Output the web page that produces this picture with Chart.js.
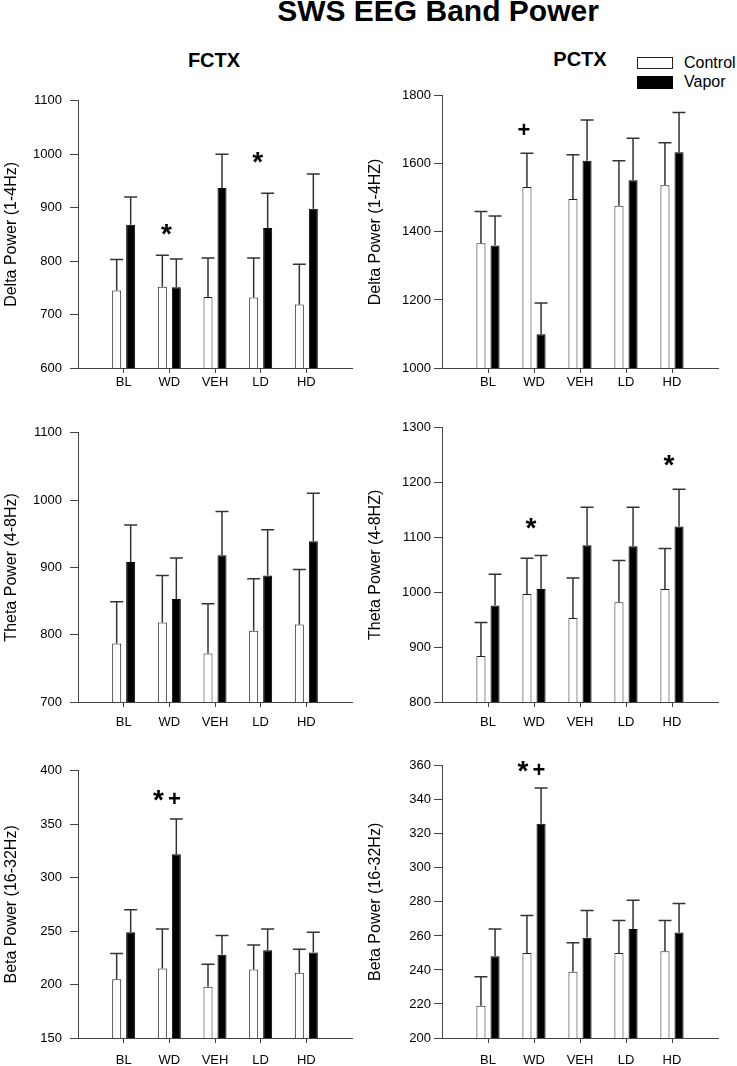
<!DOCTYPE html>
<html>
<head>
<meta charset="utf-8">
<title>SWS EEG Band Power</title>
<script src="https://cdn.jsdelivr.net/npm/chart.js@4"></script>
<style>
  html, body { margin: 0; padding: 0; background: #fff; overflow: hidden; }
  body { width: 737px; height: 1066px; position: relative; font-family: "Liberation Sans", Arial, sans-serif; color: #000; }
  .txt { position: absolute; white-space: nowrap; }
  canvas { position: absolute; }
  #title { left: 238px; width: 400px; top: -4px; text-align: center; font: bold 30px/30px "Liberation Sans", Arial, sans-serif; }
  .col { width: 100px; text-align: center; font: bold 20px/20px "Liberation Sans", Arial, sans-serif; }
  .swatch { position: absolute; left: 637px; width: 36px; box-sizing: border-box; border: 1px solid #222; }
  .leg { left: 684px; font: 16px/16px "Liberation Sans", Arial, sans-serif; }
</style>
</head>
<body>
<div id="title" class="txt">SWS EEG Band Power</div>
<div class="txt col" style="left:164px; top:50px;">FCTX</div>
<div class="txt col" style="left:530px; top:49px;">PCTX</div>
<div class="swatch" style="top:57px; height:12px; background:#fff;"></div>
<div class="swatch" style="top:76px; height:13px; background:#000; border-color:#000;"></div>
<div class="txt leg" style="top:55px;">Control</div>
<div class="txt leg" style="top:74px;">Vapor</div>

<canvas id="p1" width="370" height="313" style="left:0px; top:85px;"></canvas>
<canvas id="p2" width="373" height="313" style="left:364px; top:85px;"></canvas>
<canvas id="p3" width="370" height="315" style="left:0px; top:417px;"></canvas>
<canvas id="p4" width="373" height="315" style="left:364px; top:417px;"></canvas>
<canvas id="p5" width="370" height="313" style="left:0px; top:755px;"></canvas>
<canvas id="p6" width="373" height="313" style="left:364px; top:755px;"></canvas>

<script>
// ---------------- Data ----------------
const groups = ['BL', 'WD', 'VEH', 'LD', 'HD'];

// FCTX delta (1-4Hz)
const fDeltaCtrl = [745, 752, 733, 732, 719];
const fDeltaCtrlSem = [58, 59, 73, 74, 75];
const fDeltaVapor = [868, 751, 937, 862, 898];
const fDeltaVaporSem = [52, 53, 63, 65, 65];
const fDeltaAxis = [600, 1100, 100];
const fDeltaMarks = [['WD', '*', 853, 'both'], ['LD', '*', 988, 'both']];

// PCTX delta (1-4Hz)
const pDeltaCtrl = [1367, 1532, 1497, 1477, 1537];
const pDeltaCtrlSem = [93, 99, 130, 132, 125];
const pDeltaVapor = [1360, 1099, 1609, 1552, 1634];
const pDeltaVaporSem = [87, 92, 120, 123, 117];
const pDeltaAxis = [1000, 1800, 200];
const pDeltaMarks = [['WD', '+', 1703, 'ctrl']];

// FCTX theta (4-8Hz)
const fThetaCtrl = [787, 818, 772, 806, 815];
const fThetaCtrlSem = [62, 70, 74, 77, 82];
const fThetaVapor = [908, 853, 918, 888, 939];
const fThetaVaporSem = [55, 61, 65, 68, 71];
const fThetaAxis = [700, 1100, 100];
const fThetaMarks = [];

// PCTX theta (4-8Hz)
const pThetaCtrl = [884, 997, 953, 982, 1006];
const pThetaCtrlSem = [61, 65, 73, 76, 74];
const pThetaVapor = [976, 1006, 1086, 1084, 1120];
const pThetaVaporSem = [57, 61, 69, 71, 68];
const pThetaAxis = [800, 1300, 100];
const pThetaMarks = [['WD', '*', 1119, 'both'], ['HD', '*', 1234, 'both']];

// FCTX beta (16-32Hz)
const fBetaCtrl = [205, 215, 198, 214, 211];
const fBetaCtrlSem = [24, 37, 21, 23, 22];
const fBetaVapor = [249, 322, 228, 232, 230];
const fBetaVaporSem = [21, 33, 18, 20, 19];
const fBetaAxis = [150, 400, 50];
const fBetaMarks = [['WD', '*+', 374, 'both']];

// PCTX beta (16-32Hz)
const pBetaCtrl = [219, 250, 239, 250, 251];
const pBetaCtrlSem = [17, 22, 17, 19, 18];
const pBetaVapor = [248, 326, 259, 264, 262];
const pBetaVaporSem = [16, 21, 16, 17, 17];
const pBetaAxis = [200, 360, 20];
const pBetaMarks = [['WD', '*+', 358, 'both']];

// ---------------- Setup ----------------
Chart.defaults.font.family = '"Liberation Sans", Arial, sans-serif';
Chart.defaults.color = '#000';

// empty slot on each side so the groups sit at 1..5 on a 0..6 axis
const slots = [''].concat(groups, ['']);
const pad = arr => [null].concat(arr, [null]);
const axisColor = '#444';

// error bars (upward only) + significance marks
const errorBars = {
  id: 'errorBars',
  afterDatasetsDraw(chart) {
    const ctx = chart.ctx;
    const ys = chart.scales.y, xs = chart.scales.x;
    ctx.save();
    ctx.strokeStyle = '#333';
    ctx.lineWidth = 1.5;
    chart.data.datasets.forEach((ds, d) => {
      const meta = chart.getDatasetMeta(d);
      meta.data.forEach((bar, i) => {
        const v = ds.data[i], e = ds.sem[i];
        if (v == null || e == null) return;
        const top = ys.getPixelForValue(v + e);
        ctx.beginPath();
        ctx.moveTo(bar.x, bar.y);
        ctx.lineTo(bar.x, top);
        ctx.moveTo(bar.x - 6.5, top);
        ctx.lineTo(bar.x + 6.5, top);
        ctx.stroke();
      });
    });

    // marks: [group, text, value, over]
    const marks = chart.options.plugins.errorBars.marks || [];
    ctx.fillStyle = '#000';
    ctx.textAlign = 'center';
    ctx.textBaseline = 'alphabetic';
    marks.forEach(m => {
      const idx = slots.indexOf(m[0]);
      let x = xs.getPixelForValue(idx);
      if (m[3] === 'ctrl') x = chart.getDatasetMeta(0).data[idx].x;
      if (m[3] === 'vapor') x = chart.getDatasetMeta(1).data[idx].x;
      const yc = ys.getPixelForValue(m[2]);
      const chars = m[1].split('');
      chars.forEach((c, k) => {
        const cx = x - 3 + (k - (chars.length - 1) / 2) * 16;
        if (c === '*') {
          ctx.font = 'bold 28px "Liberation Sans", Arial, sans-serif';
          ctx.fillText(c, cx, yc + 0.37 * 28);
        } else {
          ctx.font = 'bold 22px "Liberation Sans", Arial, sans-serif';
          ctx.fillText(c, cx, yc + 0.35 * 22);
        }
      });
    });
    ctx.restore();
  }
};

function makePanel(id, yTitle, ctrl, ctrlSem, vapor, vaporSem, axis, marks, opt) {
  new Chart(document.getElementById(id), {
    type: 'bar',
    data: {
      labels: slots,
      datasets: [
        {
          label: 'Control', data: pad(ctrl), sem: pad(ctrlSem),
          backgroundColor: '#fff', borderColor: '#222', borderWidth: 1,
          categoryPercentage: 0.613, barPercentage: 0.643
        },
        {
          label: 'Vapor', data: pad(vapor), sem: pad(vaporSem),
          backgroundColor: '#000', borderColor: '#000', borderWidth: 1,
          categoryPercentage: 0.613, barPercentage: 0.643
        }
      ]
    },
    options: {
      responsive: false,
      animation: false,
      devicePixelRatio: 1,
      layout: { padding: { top: 10, right: opt.right, left: 0, bottom: 0 } },
      plugins: {
        legend: { display: false },
        tooltip: { enabled: false },
        errorBars: { marks: marks }
      },
      scales: {
        x: {
          offset: false,
          grid: {
            offset: false, drawOnChartArea: false, tickLength: 5,
            color: c => (c.index === 0 || c.index === slots.length - 1) ? 'rgba(0,0,0,0)' : axisColor
          },
          border: { display: true, color: axisColor, width: 1 },
          ticks: { font: { size: 13 }, padding: opt.xPad, maxRotation: 0, autoSkip: false },
          afterFit: s => { s.height = 30; }
        },
        y: {
          min: axis[0], max: axis[1],
          grid: { drawOnChartArea: false, tickLength: 8, color: axisColor },
          border: { display: true, color: axisColor, width: 1 },
          ticks: { stepSize: axis[2], font: { size: 13 }, padding: opt.yPad, callback: v => String(v) },
          title: { display: true, text: yTitle, font: { size: 16 }, padding: { top: 2, bottom: 0 } },
          afterFit: s => { s.width = 78; }
        }
      }
    },
    plugins: [errorBars]
  });
}

// ---------------- Render ----------------
makePanel('p1', 'Delta Power (1-4Hz)', fDeltaCtrl, fDeltaCtrlSem, fDeltaVapor, fDeltaVaporSem, fDeltaAxis, fDeltaMarks, { right: 18, yPad: 8, xPad: 2 });
makePanel('p2', 'Delta Power (1-4HZ)', pDeltaCtrl, pDeltaCtrlSem, pDeltaVapor, pDeltaVaporSem, pDeltaAxis, pDeltaMarks, { right: 19, yPad: 3, xPad: 2 });
makePanel('p3', 'Theta Power (4-8Hz)', fThetaCtrl, fThetaCtrlSem, fThetaVapor, fThetaVaporSem, fThetaAxis, fThetaMarks, { right: 18, yPad: 8, xPad: 8 });
makePanel('p4', 'Theta Power (4-8HZ)', pThetaCtrl, pThetaCtrlSem, pThetaVapor, pThetaVaporSem, pThetaAxis, pThetaMarks, { right: 19, yPad: 3, xPad: 8 });
makePanel('p5', 'Beta Power (16-32Hz)', fBetaCtrl, fBetaCtrlSem, fBetaVapor, fBetaVaporSem, fBetaAxis, fBetaMarks, { right: 18, yPad: 8, xPad: 10 });
makePanel('p6', 'Beta Power (16-32Hz)', pBetaCtrl, pBetaCtrlSem, pBetaVapor, pBetaVaporSem, pBetaAxis, pBetaMarks, { right: 19, yPad: 3, xPad: 10 });
</script>
</body>
</html>
